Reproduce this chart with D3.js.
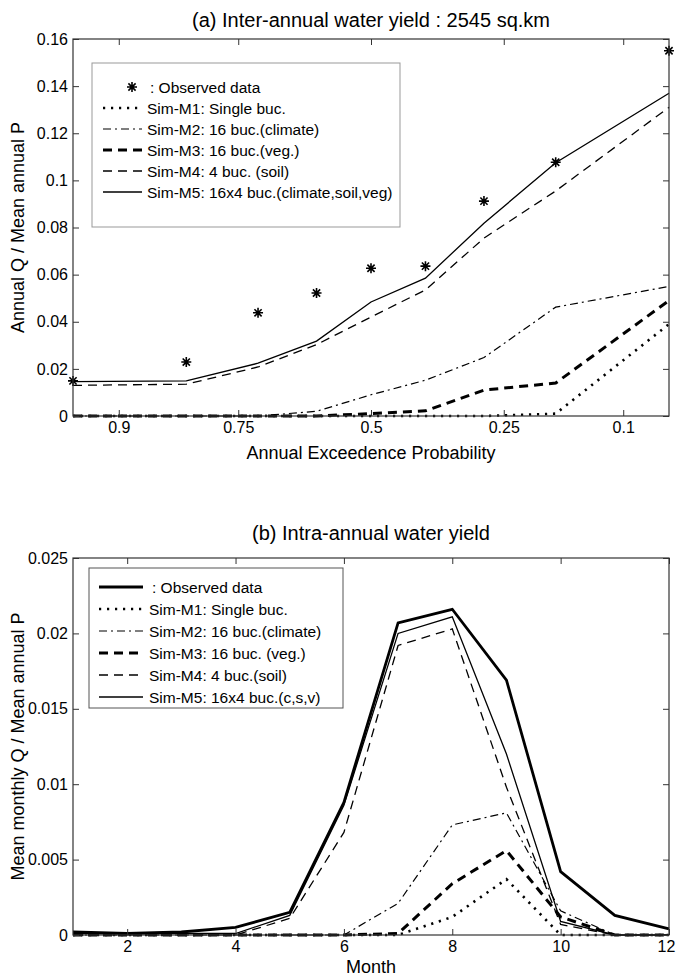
<!DOCTYPE html>
<html>
<head>
<meta charset="utf-8">
<script src="https://cdn.jsdelivr.net/npm/d3@7"></script>
<style>
body { margin: 0; background: #fff; }
svg text { font-family: "Liberation Sans", Arial, Helvetica, sans-serif; fill: #000; }
</style>
</head>
<body>
<div id="fig"></div>
<script>
// ---- data: (a) inter-annual, one value per ranked year ----
const exceedProb = [0.935, 0.826, 0.717, 0.609, 0.5, 0.391, 0.283, 0.174, 0.065];
const probTicks = [0.9, 0.75, 0.5, 0.25, 0.1];
const annualObs = [0.0149, 0.0229, 0.0438, 0.0522, 0.0627, 0.0636, 0.0912, 0.1077, 0.155];
const annualM1 = [0, 0, 0, 0, 0, 0, 0, 0.001, 0.039];
const annualM2 = [0, 0, 0, 0.002, 0.009, 0.0152, 0.0248, 0.0462, 0.055];
const annualM3 = [0, 0, 0, 0, 0.001, 0.0022, 0.011, 0.014, 0.049];
const annualM4 = [0.013, 0.0135, 0.0208, 0.0303, 0.042, 0.0535, 0.0755, 0.0955, 0.131];
const annualM5 = [0.0146, 0.0149, 0.0224, 0.0318, 0.0484, 0.0585, 0.0818, 0.1075, 0.137];
const annualTicks = [0, 0.02, 0.04, 0.06, 0.08, 0.1, 0.12, 0.14, 0.16];

// ---- data: (b) intra-annual, mean monthly ----
const months = [1, 2, 3, 4, 5, 6, 7, 8, 9, 10, 11, 12];
const monthTicks = [2, 4, 6, 8, 10, 12];
const monthlyObs = [0.0002, 0.0001, 0.0002, 0.0005, 0.0015, 0.0088, 0.0207, 0.0216, 0.0169, 0.0042, 0.0013, 0.0004];
const monthlyM1 = [0, 0, 0, 0, 0, 0, 0, 0.0012, 0.0037, 0, 0, 0];
const monthlyM2 = [0, 0, 0, 0, 0, 0, 0.0021, 0.0073, 0.0081, 0.0016, 0, 0];
const monthlyM3 = [0, 0, 0, 0, 0, 0, 0.0001, 0.0034, 0.0056, 0.0012, 0, 0];
const monthlyM4 = [0, 0, 0, 0, 0.0011, 0.0068, 0.0192, 0.0203, 0.0098, 0.0007, 0, 0];
const monthlyM5 = [0.0001, 0.0001, 0.0001, 0.0001, 0.0013, 0.0086, 0.0200, 0.0211, 0.0120, 0.0009, 0, 0];
const monthlyTicks = [0, 0.005, 0.01, 0.015, 0.02, 0.025];

const legendA = [': Observed data', 'Sim-M1: Single buc.', 'Sim-M2: 16 buc.(climate)',
  'Sim-M3: 16 buc.(veg.)', 'Sim-M4: 4 buc. (soil)', 'Sim-M5: 16x4 buc.(climate,soil,veg)'];
const legendB = [': Observed data', 'Sim-M1: Single buc.', 'Sim-M2: 16 buc.(climate)',
  'Sim-M3: 16 buc. (veg.)', 'Sim-M4: 4 buc.(soil)', 'Sim-M5: 16x4 buc.(c,s,v)'];

// line styles (matlab-ish)
const styles = {
  obs: { w: 2.8, dash: null },
  m1: { w: 2.6, dash: '2.2,5.8' },
  m2: { w: 1.2, dash: '8,4,2,4' },
  m3: { w: 3, dash: '9,6' },
  m4: { w: 1.3, dash: '9,6' },
  m5: { w: 1.3, dash: null }
};

// inverse normal cdf (Acklam, central region is enough here)
function probit(p) {
  const a = [-3.969683028665376e+01, 2.209460984245205e+02, -2.759285104469687e+02, 1.383577518672690e+02, -3.066479806614716e+01, 2.506628277459239e+00];
  const b = [-5.447609879822406e+01, 1.615858368580409e+02, -1.556989798598866e+02, 6.680131188771972e+01, -1.328068155288572e+01];
  const q = p - 0.5, r = q * q;
  return (((((a[0]*r+a[1])*r+a[2])*r+a[3])*r+a[4])*r+a[5])*q / (((((b[0]*r+b[1])*r+b[2])*r+b[3])*r+b[4])*r+1);
}

const W = 676, H = 976;
const svg = d3.select('#fig').append('svg').attr('width', W).attr('height', H);

const fmt = d => String(+d.toFixed(4));

function drawFrame(g, x, y, xTicks, xFmt, yTicks, top, bottom, left, right) {
  // bottom ticks + labels
  g.append('g').attr('transform', `translate(0,${bottom})`)
    .call(d3.axisBottom(x).tickValues(xTicks).tickFormat(xFmt).tickSize(-6).tickPadding(6))
    .call(a => a.select('.domain').remove())
    .call(a => a.selectAll('text').style('font-size', '16px'))
    .call(a => a.selectAll('line').attr('stroke', '#333'));
  // top ticks
  g.append('g').attr('transform', `translate(0,${top})`)
    .call(d3.axisTop(x).tickValues(xTicks).tickFormat('').tickSize(-6))
    .call(a => a.select('.domain').remove())
    .call(a => a.selectAll('line').attr('stroke', '#333'));
  g.append('g').attr('transform', `translate(${left},0)`)
    .call(d3.axisLeft(y).tickValues(yTicks).tickFormat(fmt).tickSize(-6).tickPadding(5))
    .call(a => a.select('.domain').remove())
    .call(a => a.selectAll('text').style('font-size', '16px'))
    .call(a => a.selectAll('line').attr('stroke', '#333'));
  g.append('g').attr('transform', `translate(${right},0)`)
    .call(d3.axisRight(y).tickValues(yTicks).tickFormat('').tickSize(-6))
    .call(a => a.select('.domain').remove())
    .call(a => a.selectAll('line').attr('stroke', '#333'));
  g.append('rect').attr('x', left).attr('y', top)
    .attr('width', right - left).attr('height', bottom - top)
    .attr('fill', 'none').attr('stroke', '#333').attr('stroke-width', 1.2);
}

function starPath(cx, cy, r) {
  const k = r * 0.72;
  return `M${cx - r},${cy}L${cx + r},${cy}M${cx},${cy - r}L${cx},${cy + r}` +
    `M${cx - k},${cy - k}L${cx + k},${cy + k}M${cx - k},${cy + k}L${cx + k},${cy - k}`;
}

function addLine(g, pts, st) {
  g.append('path').datum(pts)
    .attr('d', d3.line().x(d => d[0]).y(d => d[1]))
    .attr('fill', 'none').attr('stroke', '#000')
    .attr('stroke-width', st.w)
    .attr('stroke-dasharray', st.dash);
}

function legendSample(g, x0, x1, yy, st) {
  g.append('line').attr('x1', x0).attr('x2', x1).attr('y1', yy).attr('y2', yy)
    .attr('stroke', '#000').attr('stroke-width', st.w).attr('stroke-dasharray', st.dash);
}

// ================= (a) =================
{
  const left = 73, right = 669, top = 39, bottom = 416;
  const g = svg.append('g');
  const zx = d3.scaleLinear().domain([probit(exceedProb[0]), probit(exceedProb[exceedProb.length - 1])]).range([left, right]);
  const y = d3.scaleLinear().domain([0, 0.16]).range([bottom, top]);
  const px = p => zx(probit(p));

  const series = [[annualM1, styles.m1], [annualM2, styles.m2], [annualM3, styles.m3], [annualM4, styles.m4], [annualM5, styles.m5]];
  series.forEach(([vals, st]) => addLine(g, exceedProb.map((p, i) => [px(p), y(vals[i])]), st));
  g.append('g').selectAll('path').data(annualObs).join('path')
    .attr('d', (v, i) => starPath(px(exceedProb[i]), y(v), 5))
    .attr('stroke', '#000').attr('stroke-width', 1.6).attr('fill', 'none');

  const zTicks = probTicks.map(probit);
  drawFrame(g, zx, y, zTicks, (d, i) => String(probTicks[i]), annualTicks, top, bottom, left, right);

  g.append('text').attr('x', (left + right) / 2).attr('y', 27).attr('text-anchor', 'middle')
    .style('font-size', '20px').text('(a) Inter-annual water yield : 2545 sq.km');
  g.append('text').attr('x', (left + right) / 2).attr('y', 459).attr('text-anchor', 'middle')
    .style('font-size', '18px').text('Annual Exceedence Probability');
  g.append('text').attr('transform', `translate(24,${(top + bottom) / 2}) rotate(-90)`)
    .attr('text-anchor', 'middle').style('font-size', '18px').text('Annual Q / Mean annual P');

  // legend
  const lg = g.append('g');
  lg.append('rect').attr('x', 92).attr('y', 63).attr('width', 308).attr('height', 164)
    .attr('fill', '#fff').attr('stroke', '#999').attr('stroke-width', 1);
  const legSt = [null, styles.m1, styles.m2, styles.m3, styles.m4, styles.m5];
  legendA.forEach((lab, i) => {
    const yy = 87 + i * 21;
    if (i === 0) {
      lg.append('path').attr('d', starPath(132, yy, 5)).attr('stroke', '#000').attr('stroke-width', 1.6);
    } else {
      legendSample(lg, 103, 142, yy, legSt[i]);
    }
    lg.append('text').attr('x', i === 0 ? 150 : 147).attr('y', yy + 5.5).style('font-size', '15.5px').text(lab);
  });
}

// ================= (b) =================
{
  const left = 73, right = 669, top = 558, bottom = 935;
  const g = svg.append('g');
  const x = d3.scaleLinear().domain([1, 12]).range([left, right]);
  const y = d3.scaleLinear().domain([0, 0.025]).range([bottom, top]);

  const series = [[monthlyM1, styles.m1], [monthlyM2, styles.m2], [monthlyM3, styles.m3],
    [monthlyM4, styles.m4], [monthlyM5, styles.m5], [monthlyObs, styles.obs]];
  series.forEach(([vals, st]) => addLine(g, months.map((m, i) => [x(m), y(vals[i])]), st));

  drawFrame(g, x, y, monthTicks, d3.format('d'), monthlyTicks, top, bottom, left, right);
  // last month label sits right at the page edge; nudge it in
  g.selectAll('.tick text').filter(d => d === 12).attr('dx', -3);

  g.append('text').attr('x', (left + right) / 2).attr('y', 540).attr('text-anchor', 'middle')
    .style('font-size', '20px').text('(b) Intra-annual water yield');
  g.append('text').attr('x', (left + right) / 2).attr('y', 973).attr('text-anchor', 'middle')
    .style('font-size', '18px').text('Month');
  g.append('text').attr('transform', `translate(24,${(top + bottom) / 2}) rotate(-90)`)
    .attr('text-anchor', 'middle').style('font-size', '18px').text('Mean monthly Q / Mean annual P');

  const lg = g.append('g');
  lg.append('rect').attr('x', 89).attr('y', 568).attr('width', 254).attr('height', 140)
    .attr('fill', '#fff').attr('stroke', '#555').attr('stroke-width', 1);
  const legSt = [styles.obs, styles.m1, styles.m2, styles.m3, styles.m4, styles.m5];
  legendB.forEach((lab, i) => {
    const yy = 587 + i * 22;
    legendSample(lg, 99, 143, yy, legSt[i]);
    lg.append('text').attr('x', i === 0 ? 152 : 149).attr('y', yy + 5.5).style('font-size', '15.5px').text(lab);
  });
}
</script>
</body>
</html>
